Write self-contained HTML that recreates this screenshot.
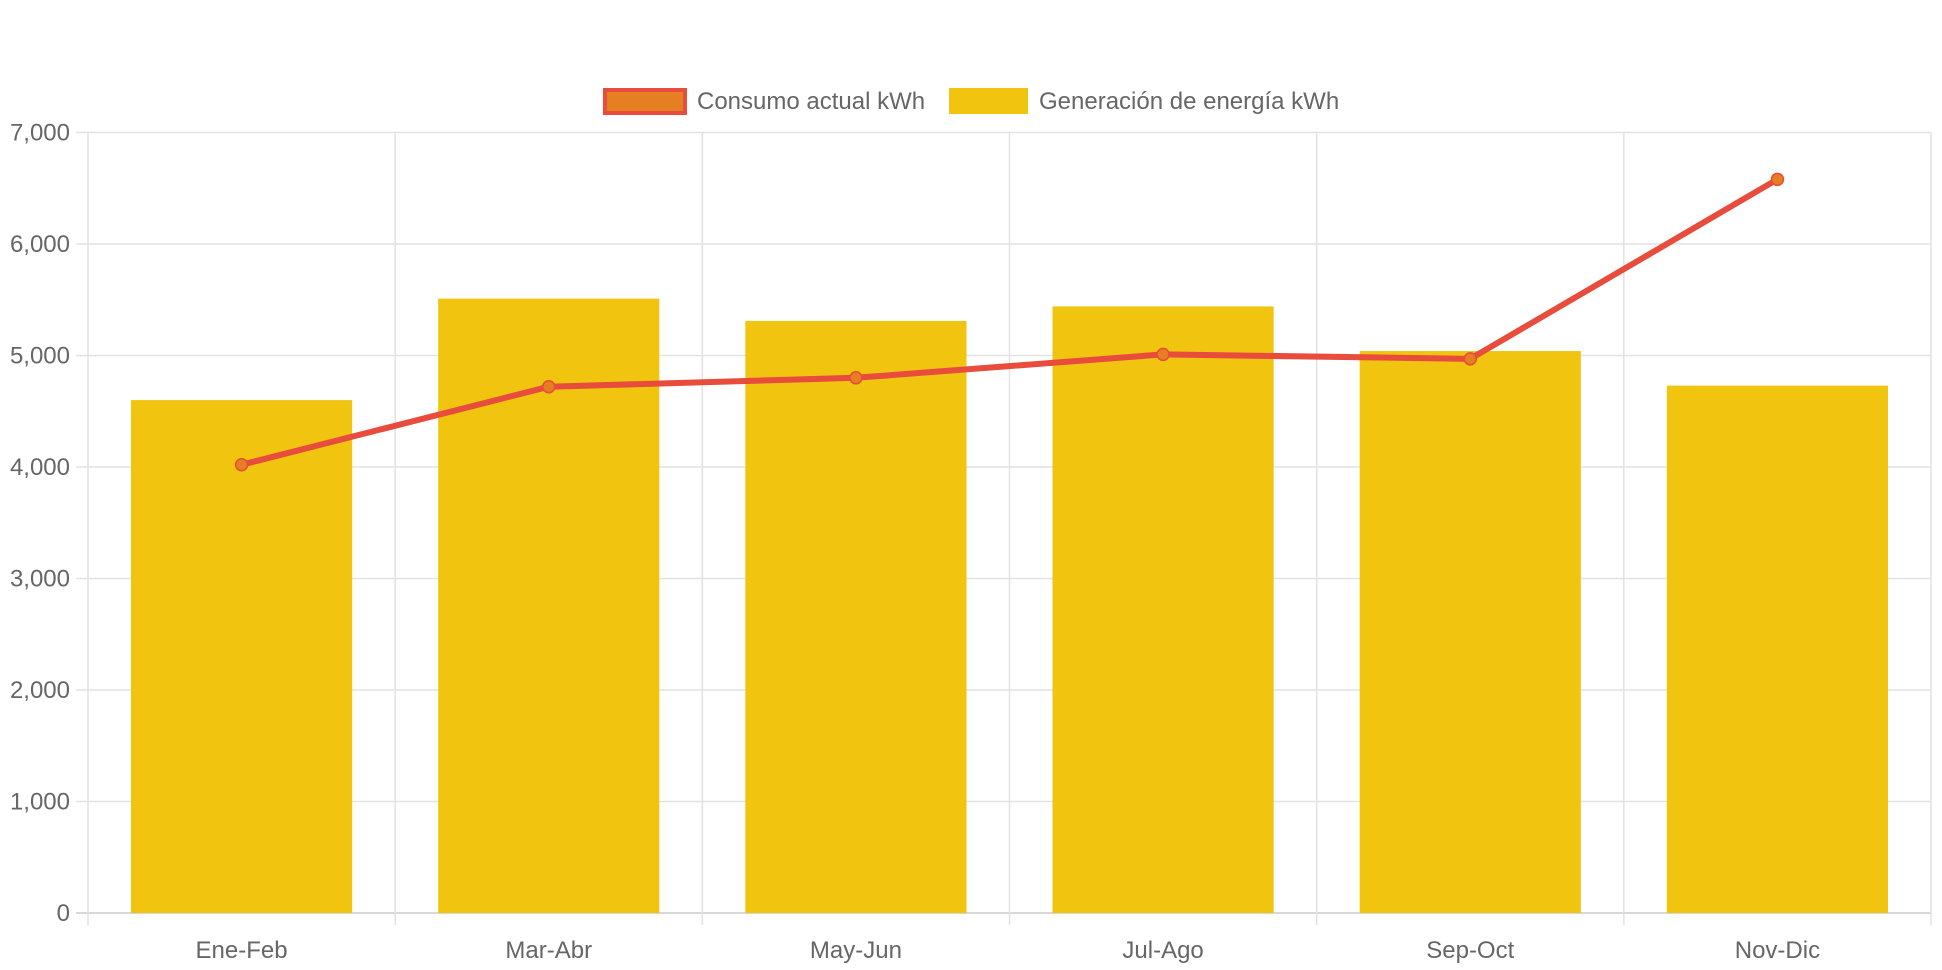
<!DOCTYPE html>
<html><head><meta charset="utf-8"><style>
html,body{margin:0;padding:0;background:#fff;}
svg{display:block;font-family:"Liberation Sans",sans-serif;}
</style></head><body>
<svg id="chart" width="1942" height="970" viewBox="0 0 1942 970" xmlns="http://www.w3.org/2000/svg">
<g id="grid"></g>
<g id="bars"></g>
<g id="line"></g>
<g id="axes"></g>
<g>
  <g>
    <rect x="605" y="90" width="80" height="23" fill="#e67e22" stroke="#e74c3c" stroke-width="4"/>
    <text x="697" y="109" font-size="24" fill="#666">Consumo actual kWh</text>
  </g>
  <g>
    <rect x="949" y="88" width="79" height="26" fill="#f1c40f"/>
    <text x="1039" y="109" font-size="24" fill="#666">Generación de energía kWh</text>
  </g>
</g>
</svg>
<script>
const categories = ["Ene-Feb","Mar-Abr","May-Jun","Jul-Ago","Sep-Oct","Nov-Dic"];
const generation = [4600, 5510, 5310, 5440, 5040, 4730];
const consumption = [4020, 4720, 4800, 5010, 4970, 6580];
const yTicks = [0,1000,2000,3000,4000,5000,6000,7000];
const yTickLabels = ["0","1,000","2,000","3,000","4,000","5,000","6,000","7,000"];

const NS = "http://www.w3.org/2000/svg";
const L = 88, R = 1931, T = 132.5, B = 913, YMAX = 7000;
const bw = (R - L) / categories.length;
function y(v){ return B - (v / YMAX) * (B - T); }
function xc(i){ return L + bw * (i + 0.5); }
function mk(tag, attrs, parent){
  const e = document.createElementNS(NS, tag);
  for (const k in attrs) e.setAttribute(k, attrs[k]);
  parent.appendChild(e); return e;
}
const grid = document.getElementById('grid');
const axes = document.getElementById('axes');
yTicks.forEach((t, i) => {
  const ln = mk('line', {x1: L - 12, x2: R, y1: y(t), y2: y(t), stroke: i === 0 ? '#ccc' : '#e2e2e2', 'stroke-width': 1.5}, grid);
  
  
  const tx = mk('text', {x: L - 18, y: y(t) + 8, 'text-anchor': 'end', 'font-size': 24, fill: '#666'}, axes);
  tx.textContent = yTickLabels[i];
  
  
});
for (let i = 0; i <= categories.length; i++) {
  const x = L + bw * i;
  const ln = mk('line', {x1: x, x2: x, y1: T, y2: B + 12, stroke: '#e2e2e2', 'stroke-width': 1.5}, grid);
  
  
}
const bars = document.getElementById('bars');
generation.forEach((v, i) => {
  const w = bw * 0.72;
  const r = mk('rect', {x: xc(i) - w / 2, y: y(v), width: w, height: B - y(v), fill: '#f1c40f'}, bars);
  
  
});
categories.forEach((c, i) => {
  const tx = mk('text', {x: xc(i), y: 958, 'text-anchor': 'middle', 'font-size': 24, fill: '#666'}, axes);
  tx.textContent = c;
  
  
});
const lineG = document.getElementById('line');
const pts = consumption.map((v, i) => xc(i) + ',' + y(v)).join(' ');
const pl = mk('polyline', {points: pts, fill: 'none', stroke: '#e74c3c', 'stroke-width': 6, 'stroke-linejoin': 'round'}, lineG);


consumption.forEach((v, i) => {
  const c = mk('circle', {cx: xc(i), cy: y(v), r: 6, fill: '#e67e22', stroke: '#e74c3c', 'stroke-width': 1.5}, lineG);
  
  
});
</script>
</body></html>
